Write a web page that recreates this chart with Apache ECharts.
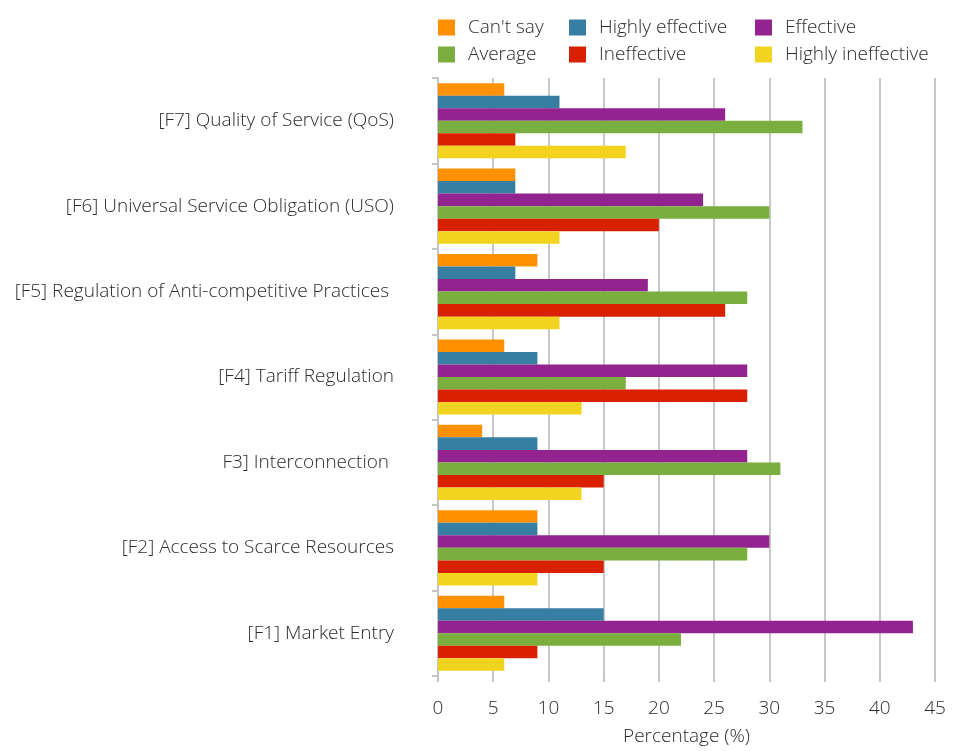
<!DOCTYPE html>
<html>
<head>
<meta charset="utf-8">
<script src="https://cdn.jsdelivr.net/npm/echarts@6/dist/echarts.min.js"></script>
<style>
  html, body { margin: 0; padding: 0; background: #fff; }
  #chart { width: 957px; height: 751px; }
</style>
</head>
<body>
<div id="chart"></div>
<script>
// Categories, listed top to bottom
const categories = [
  '[F7] Quality of Service (QoS)',
  '[F6] Universal Service Obligation (USO)',
  '[F5] Regulation of Anti-competitive Practices ',
  '[F4] Tariff Regulation',
  'F3] Interconnection ',
  '[F2] Access to Scarce Resources',
  '[F1] Market Entry'
];

// Response shares (%) per category, same order as categories
const cantSay           = [6, 7, 9, 6, 4, 9, 6];
const highlyEffective   = [11, 7, 7, 9, 9, 9, 15];
const effective         = [26, 24, 19, 28, 28, 30, 43];
const average           = [33, 30, 28, 17, 31, 28, 22];
const ineffective       = [7, 20, 26, 28, 15, 15, 9];
const highlyIneffective = [17, 11, 11, 13, 13, 9, 6];

const xTicks = { min: 0, max: 45, interval: 5 };

const seriesDefs = [
  { name: "Can't say", data: cantSay, color: '#FF9100' },
  { name: 'Highly effective', data: highlyEffective, color: '#367EA2' },
  { name: 'Effective', data: effective, color: '#92238F' },
  { name: 'Average', data: average, color: '#7AAE3E' },
  { name: 'Ineffective', data: ineffective, color: '#D92000' },
  { name: 'Highly ineffective', data: highlyIneffective, color: '#F2D420' }
];

const FONT = '"Open Sans", "Noto Sans", sans-serif';
const textCol = '#2b2b2b';
const FS = 19;

function legendBlock(left, names) {
  return {
    orient: 'vertical',
    left: left,
    top: 18,
    padding: 0,
    itemWidth: 17,
    itemHeight: 16,
    itemGap: 8,
    icon: 'rect',
    data: names,
    textStyle: { fontFamily: FONT, fontSize: FS, fontWeight: 300, color: textCol, padding: [0, 0, 0, 8] }
  };
}

const chart = echarts.init(document.getElementById('chart'), null, { renderer: 'canvas' });
chart.setOption({
  backgroundColor: '#ffffff',
  animation: false,
  legend: [
    legendBlock(438, ["Can't say", 'Average']),
    legendBlock(569, ['Highly effective', 'Ineffective']),
    legendBlock(755, ['Effective', 'Highly ineffective'])
  ],
  grid: { left: 438, right: 22, top: 78, bottom: 74, containLabel: false },
  xAxis: {
    type: 'value',
    min: xTicks.min,
    max: xTicks.max,
    interval: xTicks.interval,
    name: 'Percentage (%)',
    nameLocation: 'middle',
    nameGap: 51,
    nameTextStyle: { fontFamily: FONT, fontSize: FS, fontWeight: 300, color: textCol },
    axisLine: { show: false },
    axisTick: { show: true, length: 6, lineStyle: { color: '#c4c4c4', width: 2 } },
    axisLabel: { fontFamily: FONT, fontSize: FS, fontWeight: 300, color: textCol, margin: 23 },
    splitLine: { show: true, lineStyle: { color: '#c8c8c8', width: 2 } }
  },
  yAxis: {
    type: 'category',
    inverse: true,
    data: categories,
    axisLine: { show: true, lineStyle: { color: '#c4c4c4', width: 2 } },
    axisTick: { show: true, length: 6, lineStyle: { color: '#c4c4c4', width: 2 } },
    axisLabel: { fontFamily: FONT, fontSize: FS, fontWeight: 300, color: textCol, margin: 44 },
    splitLine: { show: false }
  },
  series: seriesDefs.map(s => ({
    name: s.name,
    type: 'bar',
    data: s.data,
    itemStyle: { color: s.color },
    barGap: '0%',
    barCategoryGap: '12%'
  }))
});
</script>
</body>
</html>
